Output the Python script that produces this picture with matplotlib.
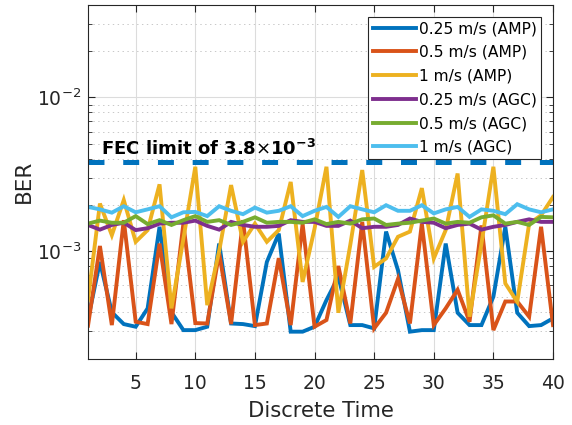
import matplotlib
matplotlib.use("Agg")
import matplotlib.pyplot as plt
import numpy as np
from matplotlib.ticker import LogLocator, NullFormatter, FixedLocator

plt.rcParams['font.family'] = ['DejaVu Sans']
plt.rcParams['mathtext.fontset'] = 'dejavusans'
plt.rcParams['lines.scale_dashes'] = False

t = np.arange(1, 41)

amp_025 = [3.6e-4, 8.5e-4, 4.0e-4, 3.35e-4, 3.22e-4, 4.24e-4, 1.44e-3, 4.0e-4, 3.06e-4, 3.06e-4,
           3.22e-4, 1.12e-3, 3.38e-4, 3.35e-4, 3.25e-4, 8.5e-4, 1.30e-3, 2.99e-4, 2.99e-4, 3.22e-4,
           4.8e-4, 6.8e-4, 3.30e-4, 3.30e-4, 3.14e-4, 1.34e-3, 7.5e-4, 2.99e-4, 3.06e-4, 3.06e-4,
           1.12e-3, 3.97e-4, 3.30e-4, 3.30e-4, 5.05e-4, 1.44e-3, 3.97e-4, 3.25e-4, 3.30e-4, 3.65e-4]
amp_05 = [3.27e-4, 1.08e-3, 3.30e-4, 1.59e-3, 3.47e-4, 3.35e-4, 1.12e-3, 3.35e-4, 1.51e-3, 3.40e-4,
          3.38e-4, 9.7e-4, 3.35e-4, 1.59e-3, 3.30e-4, 3.38e-4, 9.0e-4, 3.30e-4, 1.50e-3, 3.22e-4,
          3.56e-4, 8.0e-4, 3.38e-4, 1.55e-3, 3.14e-4, 3.97e-4, 6.6e-4, 3.38e-4, 1.51e-3, 3.30e-4,
          4.24e-4, 5.6e-4, 3.47e-4, 1.47e-3, 3.06e-4, 4.7e-4, 4.7e-4, 3.74e-4, 1.44e-3, 3.30e-4]
amp_1 = [4.8e-4, 2.04e-3, 1.27e-3, 2.15e-3, 1.15e-3, 1.37e-3, 2.72e-3, 4.24e-4, 1.2e-3, 3.54e-3,
         4.45e-4, 1.0e-3, 2.69e-3, 1.15e-3, 1.51e-3, 1.15e-3, 1.37e-3, 2.82e-3, 6.3e-4, 1.4e-3,
         3.54e-3, 3.97e-4, 1.1e-3, 3.37e-3, 7.9e-4, 8.96e-4, 1.24e-3, 1.34e-3, 2.57e-3, 8.96e-4,
         1.37e-3, 3.2e-3, 3.74e-4, 1.12e-3, 3.54e-3, 6.16e-4, 4.68e-4, 1.51e-3, 1.71e-3, 2.25e-3]
agc_025 = [1.48e-3, 1.38e-3, 1.48e-3, 1.53e-3, 1.37e-3, 1.41e-3, 1.51e-3, 1.53e-3, 1.53e-3, 1.58e-3,
           1.46e-3, 1.38e-3, 1.55e-3, 1.48e-3, 1.44e-3, 1.44e-3, 1.46e-3, 1.59e-3, 1.55e-3, 1.55e-3,
           1.46e-3, 1.46e-3, 1.58e-3, 1.41e-3, 1.44e-3, 1.44e-3, 1.48e-3, 1.63e-3, 1.55e-3, 1.53e-3,
           1.41e-3, 1.48e-3, 1.51e-3, 1.38e-3, 1.44e-3, 1.48e-3, 1.55e-3, 1.61e-3, 1.55e-3, 1.55e-3]
agc_05 = [1.51e-3, 1.58e-3, 1.53e-3, 1.53e-3, 1.69e-3, 1.50e-3, 1.59e-3, 1.48e-3, 1.59e-3, 1.69e-3,
          1.55e-3, 1.59e-3, 1.48e-3, 1.55e-3, 1.66e-3, 1.53e-3, 1.55e-3, 1.55e-3, 1.53e-3, 1.61e-3,
          1.50e-3, 1.55e-3, 1.51e-3, 1.61e-3, 1.63e-3, 1.48e-3, 1.51e-3, 1.53e-3, 1.58e-3, 1.63e-3,
          1.51e-3, 1.55e-3, 1.53e-3, 1.66e-3, 1.71e-3, 1.51e-3, 1.55e-3, 1.48e-3, 1.67e-3, 1.66e-3]
agc_1 = [1.94e-3, 1.87e-3, 1.78e-3, 1.96e-3, 1.79e-3, 1.87e-3, 1.96e-3, 1.66e-3, 1.79e-3, 1.80e-3,
         1.69e-3, 1.96e-3, 1.83e-3, 1.74e-3, 1.92e-3, 1.78e-3, 1.83e-3, 1.96e-3, 1.69e-3, 1.83e-3,
         1.94e-3, 1.67e-3, 1.96e-3, 1.87e-3, 1.79e-3, 1.99e-3, 1.83e-3, 1.83e-3, 1.99e-3, 1.76e-3,
         1.87e-3, 1.94e-3, 1.67e-3, 1.87e-3, 1.83e-3, 1.74e-3, 2.02e-3, 1.87e-3, 1.79e-3, 1.87e-3]

labels = ['0.25 m/s (AMP)', '0.5 m/s (AMP)', '1 m/s (AMP)',
          '0.25 m/s (AGC)', '0.5 m/s (AGC)', '1 m/s (AGC)']
series = [amp_025, amp_05, amp_1, agc_025, agc_05, agc_1]
colors = ['#0072BD', '#D95319', '#EDB120', '#7E2F8E', '#77AC30', '#4DBEEE']
fec_limit = 3.8e-3
xticks = [5, 10, 15, 20, 25, 30, 35, 40]

fig = plt.figure(figsize=(5.72, 4.25), dpi=100)
ax = fig.add_axes([88/572, 1-358.5/425, (553-88)/572, (358.5-5)/425])

for y, c, lab in zip(series, colors, labels):
    ax.plot(t, y, color=c, lw=2.8, label=lab, solid_joinstyle='miter')

ax.plot([t[0], t[-1]], [fec_limit, fec_limit], color='#0072BD', lw=3.6,
        dashes=(11.5, 13.5), dash_capstyle='butt')
ax.text(2.1, 4.2e-3, r'FEC limit of 3.8$\times$10$^{\mathbf{-3}}$',
        fontsize=13.0, fontweight='bold', va='baseline', ha='left', color='black')

ax.set_yscale('log')
ax.set_xlim(1, 40)
ax.set_ylim(2e-4, 4e-2)
ax.xaxis.set_major_locator(FixedLocator(xticks))
ax.yaxis.set_major_locator(LogLocator(base=10, numticks=10))
ax.yaxis.set_minor_locator(LogLocator(base=10, subs=np.arange(2, 10), numticks=10))
ax.yaxis.set_minor_formatter(NullFormatter())

dark = '#262626'
for s in ax.spines.values():
    s.set_color(dark)
    s.set_linewidth(0.8)
ax.tick_params(which='both', direction='in', top=True, right=True, colors=dark, labelsize=13.5)
ax.tick_params(which='major', length=5)
ax.tick_params(which='minor', length=3)
ax.tick_params(axis='x', which='major', pad=11.5)
ax.tick_params(axis='y', which='major', pad=5)
ax.grid(True, which='major', color='#dcdcdc', lw=0.8, ls='-')
ax.grid(True, which='minor', axis='y', color='#c8c8c8', lw=0.7, ls=(0, (1, 2.5)))
ax.set_axisbelow(True)

ax.set_xlabel('Discrete Time', fontsize=15.2, color=dark, labelpad=5.5)
ax.set_ylabel('BER', fontsize=15.5, color=dark, labelpad=2)

leg = ax.legend(loc='upper right', fontsize=11.2, handlelength=2.75, handletextpad=0.22,
                labelspacing=0.56, borderpad=0.3, borderaxespad=0.74, fancybox=False,
                framealpha=1, edgecolor=dark)
leg.get_frame().set_linewidth(0.8)

fig.savefig('out.png', dpi=100)
